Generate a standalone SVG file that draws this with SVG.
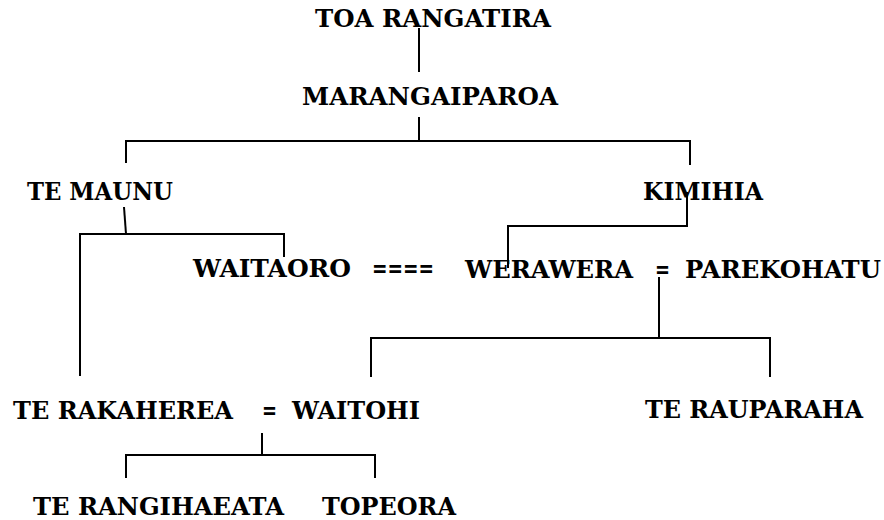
<svg xmlns="http://www.w3.org/2000/svg" width="884" height="520" viewBox="0 0 884 520">
<style>
text{font-family:"DejaVu Serif","Liberation Serif",serif;font-weight:bold;font-size:24.5px;fill:#000}
.c line,.c polyline{stroke:#000;stroke-width:2;fill:none}
</style>
<rect width="884" height="520" fill="#fff"/>
<g class="c" id="connectors">
<line x1="419" y1="28" x2="419" y2="72"/>
<line x1="419" y1="117" x2="419" y2="141"/>
<polyline points="126,163 126,141 690,141 690,165"/>
<polyline points="124,207 126,234"/>
<polyline points="80,376 80,234 284,234 284,257"/>
<polyline points="687,192 687,226 508,226 508,268"/>
<line x1="659" y1="277" x2="659" y2="338"/>
<polyline points="371,377 371,338 770,338 770,377"/>
<line x1="262" y1="433" x2="262" y2="455"/>
<polyline points="126,478 126,455 375,455 375,478"/>
</g>
<g id="toa"><text x="315" y="27" textLength="236" lengthAdjust="spacingAndGlyphs">TOA RANGATIRA</text></g>
<g id="marangaiparoa"><text x="302" y="105" textLength="256" lengthAdjust="spacingAndGlyphs">MARANGAIPAROA</text></g>
<g id="temaunu"><text x="27" y="200" textLength="146" lengthAdjust="spacingAndGlyphs">TE MAUNU</text></g>
<g id="kimihia"><text x="643" y="200" textLength="120" lengthAdjust="spacingAndGlyphs">KIMIHIA</text></g>
<g id="waitaoro"><text x="193" y="277" textLength="158" lengthAdjust="spacingAndGlyphs">WAITAORO</text></g>
<g id="m1"><text x="372" y="277" textLength="62" lengthAdjust="spacingAndGlyphs">====</text></g>
<g id="werawera"><text x="465" y="278" textLength="168" lengthAdjust="spacingAndGlyphs">WERAWERA</text></g>
<g id="m2"><text x="655" y="278" textLength="15" lengthAdjust="spacingAndGlyphs">=</text></g>
<g id="parekohatu"><text x="685" y="278" textLength="196" lengthAdjust="spacingAndGlyphs">PAREKOHATU</text></g>
<g id="terakaherea"><text x="13" y="419" textLength="220" lengthAdjust="spacingAndGlyphs">TE RAKAHEREA</text></g>
<g id="m3"><text x="262" y="419" textLength="15" lengthAdjust="spacingAndGlyphs">=</text></g>
<g id="waitohi"><text x="292" y="419" textLength="128" lengthAdjust="spacingAndGlyphs">WAITOHI</text></g>
<g id="terauparaha"><text x="645" y="418" textLength="218" lengthAdjust="spacingAndGlyphs">TE RAUPARAHA</text></g>
<g id="terangihaeata"><text x="33" y="515" textLength="251" lengthAdjust="spacingAndGlyphs">TE RANGIHAEATA</text></g>
<g id="topeora"><text x="322" y="515" textLength="134" lengthAdjust="spacingAndGlyphs">TOPEORA</text></g>
</svg>
